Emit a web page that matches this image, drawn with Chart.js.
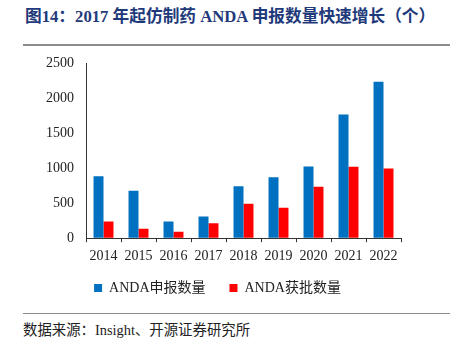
<!DOCTYPE html>
<html>
<head>
<meta charset="utf-8">
<script src="https://cdn.jsdelivr.net/npm/chart.js@4"></script>
<style>
  body { margin: 0; background: #fff; }
  #page { position: relative; width: 459px; height: 344px; overflow: hidden;
          font-family: "Liberation Serif", "Noto Sans CJK SC", serif; }
  #title { position: absolute; left: 25px; top: 3px; font-size: 16.7px; font-weight: bold;
           color: #1f3a7a; white-space: nowrap; }
  .rule { position: absolute; left: 23px; width: 427px; background: #8c8c8c; }
  #box { position: absolute; left: 0; top: 43px; width: 459px; height: 262px; }
  #source { position: absolute; left: 23px; top: 318px; font-size: 14.4px; color: #222; white-space: nowrap; }
</style>
</head>
<body>
<div id="page">
  <div id="title">图14：2017 年起仿制药 ANDA 申报数量快速增长（个）</div>
  <div class="rule" style="top:44px;height:2px"></div>
  <div id="box"><canvas id="chart"></canvas></div>
  <div class="rule" style="top:313px;height:1px"></div>
  <div id="source">数据来源：Insight、开源证券研究所</div>
</div>
<script>
  // years and counts
  const years = ["2014", "2015", "2016", "2017", "2018", "2019", "2020", "2021", "2022"];
  const filed = [885, 678, 239, 309, 744, 871, 1025, 1770, 2237];
  const approved = [239, 136, 94, 215, 492, 435, 735, 1021, 997];
  const seriesNames = ["ANDA申报数量", "ANDA获批数量"];

  const font = { family: '"Liberation Serif", "Noto Sans CJK SC", serif', size: 14 };

  new Chart(document.getElementById("chart"), {
    type: "bar",
    data: {
      labels: years,
      datasets: [
        { label: seriesNames[0], data: filed, backgroundColor: "#0070c0" },
        { label: seriesNames[1], data: approved, backgroundColor: "#ff0000" },
      ],
    },
    options: {
      responsive: true,
      maintainAspectRatio: false,
      animation: false,
      layout: { padding: { left: 34, right: 58, top: 0, bottom: 0 } },
      datasets: { bar: { categoryPercentage: 0.57, barPercentage: 1 } },
      scales: {
        x: {
          grid: { display: true, drawOnChartArea: false, drawTicks: true, tickLength: 4, color: "#333" },
          border: { color: "#333", width: 1 },
          ticks: { font, color: "#222", padding: 6, maxRotation: 0 },
        },
        y: {
          min: 0, max: 2500,
          grid: { display: true, drawOnChartArea: false, drawTicks: false },
          border: { color: "#333", width: 1 },
          ticks: { font, color: "#222", stepSize: 500, padding: 12, callback: v => String(v) },
        },
      },
      plugins: {
        legend: {
          position: "bottom",
          labels: {
            font, color: "#222", boxWidth: 8, boxHeight: 8, padding: 10,
            // a bit of extra room after the first entry
            generateLabels(chart) {
              const items = Chart.defaults.plugins.legend.labels.generateLabels(chart);
              items[0].text += "    ";
              return items;
            },
          },
        },
        tooltip: { enabled: false },
      },
    },
  });
</script>
</body>
</html>
